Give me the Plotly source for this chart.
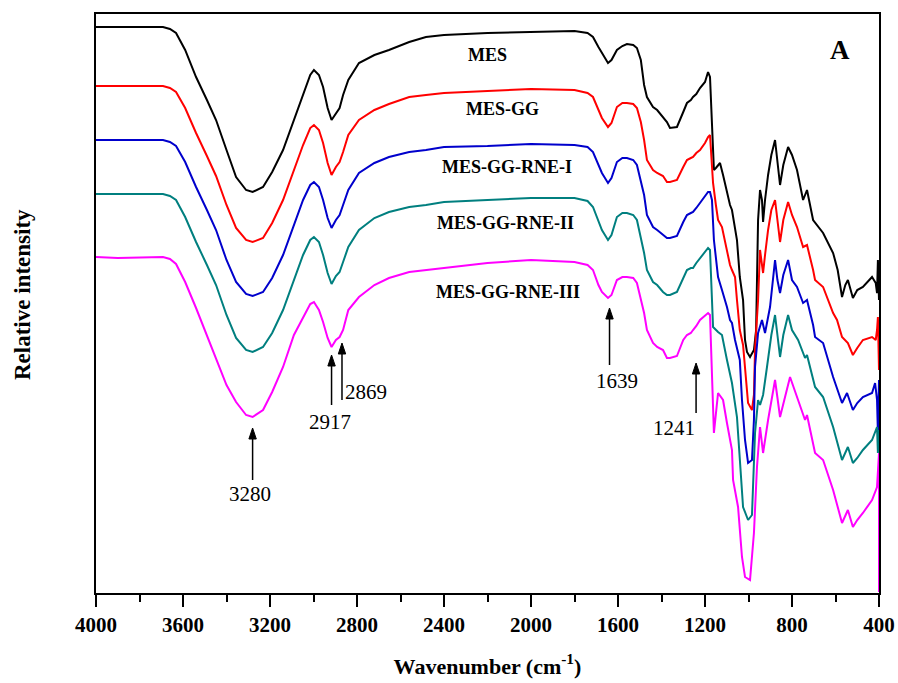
import plotly.graph_objects as go

# FTIR spectra (relative intensity, arbitrary units, vertically offset)
wn_mes = [4000, 3850, 3692, 3660, 3632, 3590, 3540, 3490, 3448, 3400, 3356, 3310, 3280, 3232, 3190, 3140,
          3090, 3048, 3015, 2998, 2975, 2956, 2935, 2917, 2897, 2880, 2864, 2840, 2791, 2720, 2653, 2560,
          2483, 2400, 2200, 2000, 1800, 1740, 1715, 1690, 1674, 1646, 1630, 1605, 1580, 1559, 1530, 1513,
          1495, 1480, 1467, 1439, 1420, 1393, 1375, 1361, 1329, 1300, 1283, 1265, 1255, 1240, 1223, 1200,
          1186, 1177, 1168, 1159, 1150, 1131, 1117, 1099, 1085, 1076, 1062, 1053, 1040, 1025, 1016, 1007,
          993, 975, 965, 956, 947, 938, 933, 924, 910, 895, 878, 867, 855, 840, 818, 800, 777, 749, 731,
          703, 657, 611, 590, 570, 555, 543, 520, 500, 474, 432, 415, 409, 405, 400]
int_mes = [565, 565, 565, 563, 559, 542, 515, 492, 472, 442, 415, 402, 400, 405, 420, 442,
           472, 499, 517, 522, 517, 505, 484, 472, 479, 484, 497, 512, 529, 537, 542, 550,
           555, 557, 559, 560, 561, 559, 555, 545, 539, 529, 532, 542, 546, 548, 547, 544,
           532, 507, 495, 485, 482, 475, 470, 464, 465, 480, 489, 492, 495, 498, 504, 510,
           520, 515, 472, 422, 424, 429, 417, 399, 387, 382, 365, 352, 315, 292, 252, 240,
           235, 242, 262, 372, 402, 392, 370, 392, 417, 437, 452, 432, 407, 427, 445, 437, 422, 392, 402,
           372, 359, 339, 322, 295, 307, 312, 294, 302, 305, 315, 309, 299, 332, 292]

wn_gg = [4000, 3692, 3660, 3632, 3590, 3540, 3490, 3448, 3400, 3356, 3310, 3280, 3232, 3190, 3140, 3090,
         3048, 3015, 2998, 2975, 2956, 2935, 2917, 2897, 2880, 2864, 2840, 2791, 2720, 2653, 2560, 2483,
         2400, 2200, 2000, 1800, 1740, 1715, 1690, 1674, 1646, 1630, 1605, 1580, 1559, 1530, 1513, 1495,
         1480, 1467, 1439, 1420, 1393, 1375, 1361, 1329, 1300, 1283, 1265, 1255, 1240, 1223, 1200, 1186,
         1177, 1168, 1163, 1150, 1140, 1122, 1099, 1085, 1076, 1062, 1053, 1040, 1025, 1016, 1002, 984,
         975, 970, 956, 947, 933, 924, 910, 895, 878, 867, 855, 840, 818, 800, 777, 749, 731, 703, 694,
         657, 611, 593, 570, 543, 520, 500, 474, 432, 415, 409, 405, 400]
int_gg = [506, 506, 504, 500, 484, 459, 436, 416, 387, 364, 352, 350, 354, 369, 392, 422,
          447, 464, 467, 462, 449, 429, 417, 425, 430, 440, 457, 472, 482, 488, 495, 497,
          499, 501, 503, 502, 499, 495, 482, 474, 465, 469, 485, 489, 489, 488, 484, 470,
          452, 432, 422, 419, 416, 410, 410, 412, 425, 432, 434, 435, 439, 442, 449, 455,
          457, 432, 409, 387, 372, 365, 342, 327, 322, 315, 292, 262, 247, 225, 189, 182,
          197, 242, 292, 342, 319, 337, 362, 382, 392, 372, 350, 372, 390, 377, 365, 345, 347, 322, 312,
          305, 279, 272, 255, 249, 237, 244, 252, 255, 252, 262, 275, 222]

wn_rne1 = [4000, 3692, 3660, 3632, 3590, 3540, 3490, 3448, 3400, 3356, 3310, 3280, 3232, 3190, 3140, 3090,
           3048, 3015, 2998, 2975, 2956, 2935, 2917, 2897, 2880, 2864, 2840, 2791, 2720, 2653, 2560, 2483,
           2400, 2200, 2000, 1800, 1740, 1715, 1690, 1674, 1646, 1630, 1605, 1580, 1559, 1530, 1513, 1495,
           1480, 1467, 1439, 1420, 1393, 1375, 1361, 1329, 1300, 1283, 1265, 1255, 1240, 1223, 1200, 1186,
           1177, 1168, 1159, 1140, 1122, 1099, 1085, 1076, 1062, 1040, 1030, 1016, 1002, 984, 975, 970,
           956, 938, 924, 901, 878, 867, 855, 840, 818, 800, 777, 749, 731, 703, 694, 657, 611, 570, 547,
           520, 500, 474, 432, 418, 409, 405, 400]
int_rne1 = [452, 452, 450, 446, 430, 405, 382, 362, 332, 310, 298, 296, 300, 314, 337, 367,
            392, 407, 410, 405, 392, 374, 364, 372, 377, 387, 402, 419, 429, 435, 440, 442,
            445, 446, 448, 447, 445, 440, 427, 419, 409, 414, 430, 434, 434, 432, 427, 412,
            397, 377, 365, 362, 357, 354, 354, 356, 370, 377, 379, 380, 384, 389, 395, 400,
            400, 392, 352, 315, 302, 285, 272, 269, 252, 232, 192, 152, 129, 132, 172, 225,
            259, 272, 259, 285, 332, 312, 299, 317, 332, 312, 305, 289, 292, 267, 255, 249, 215, 189, 199,
            182, 189, 195, 199, 209, 192, 159, 212]

wn_rne2 = [4000, 3692, 3660, 3632, 3590, 3540, 3490, 3448, 3400, 3356, 3310, 3280, 3232, 3190, 3140, 3090,
           3048, 3015, 2998, 2975, 2956, 2935, 2917, 2897, 2880, 2864, 2840, 2791, 2720, 2653, 2560, 2483,
           2400, 2200, 2000, 1800, 1740, 1715, 1690, 1674, 1646, 1630, 1605, 1580, 1559, 1530, 1513, 1495,
           1480, 1467, 1439, 1420, 1393, 1375, 1361, 1329, 1300, 1283, 1265, 1255, 1240, 1223, 1200, 1186,
           1177, 1168, 1163, 1140, 1122, 1099, 1076, 1053, 1039, 1025, 1002, 984, 970, 956, 947, 933, 915,
           895, 878, 867, 855, 840, 818, 800, 772, 740, 731, 694, 657, 611, 570, 543, 520, 500, 474, 432,
           409, 405, 400]
int_rne2 = [398, 398, 396, 392, 375, 350, 327, 307, 277, 254, 242, 240, 245, 259, 282, 312,
            337, 352, 355, 350, 337, 319, 308, 316, 320, 330, 345, 362, 374, 380, 385, 387,
            390, 392, 394, 394, 391, 385, 370, 362, 352, 357, 375, 379, 379, 377, 372, 355,
            339, 322, 310, 307, 300, 297, 297, 300, 315, 322, 324, 324, 329, 334, 340, 344,
            342, 302, 265, 260, 257, 232, 209, 175, 125, 85, 72, 77, 159, 192, 187, 197, 225,
            257, 277, 257, 235, 257, 277, 262, 252, 234, 237, 205, 195, 165, 132, 145, 129, 134, 142, 152,
            165, 139, 162]

wn_rne3 = [4000, 3900, 3692, 3660, 3632, 3590, 3540, 3490, 3448, 3400, 3356, 3310, 3280, 3232, 3190, 3140,
           3090, 3048, 3015, 2998, 2975, 2956, 2935, 2917, 2897, 2880, 2864, 2840, 2791, 2720, 2653, 2560,
           2483, 2400, 2200, 2000, 1800, 1740, 1715, 1690, 1674, 1646, 1630, 1605, 1580, 1559, 1530, 1513,
           1495, 1480, 1467, 1439, 1420, 1393, 1375, 1361, 1329, 1300, 1283, 1265, 1255, 1240, 1223, 1200,
           1186, 1177, 1168, 1159, 1140, 1117, 1099, 1076, 1071, 1048, 1030, 1016, 993, 984, 975, 961, 947,
           933, 910, 878, 855, 809, 772, 740, 731, 694, 657, 611, 570, 543, 520, 500, 474, 432, 409, 403,
           400, 400]
int_rne3 = [335, 334, 335, 333, 328, 310, 284, 257, 234, 207, 190, 177, 175, 182, 200, 225,
            257, 274, 288, 290, 282, 270, 254, 245, 252, 255, 262, 282, 295, 307, 314, 320,
            322, 324, 329, 332, 330, 327, 322, 307, 300, 294, 297, 312, 315, 315, 314, 309,
            294, 279, 262, 249, 245, 242, 234, 234, 236, 252, 257, 259, 262, 266, 272, 277,
            279, 277, 212, 159, 199, 192, 169, 142, 112, 85, 35, 15, 12, 32, 59, 125, 165,
            139, 172, 212, 175, 215, 192, 172, 177, 139, 132, 102, 69, 82, 65, 72, 79, 92, 105, 139,
            139, 0]

series = [
    ("MES", wn_mes, int_mes, "#000000"),
    ("MES-GG", wn_gg, int_gg, "#FF0000"),
    ("MES-GG-RNE-I", wn_rne1, int_rne1, "#0000CC"),
    ("MES-GG-RNE-II", wn_rne2, int_rne2, "#007F7F"),
    ("MES-GG-RNE-III", wn_rne3, int_rne3, "#FF00FF"),
]

# label anchors (wavenumber, intensity) for each spectrum name
label_wn = [2202, 2129, 2110, 2115, 2106]
label_int = [537, 483, 425, 369, 300]

# marked bands: band, arrow tip / tail intensity, label position
band_wn = [3280, 2917, 2869, 1639, 1241]
band_tip = [164, 237, 249, 284, 229]
band_tail = [112, 187, 192, 227, 179]
band_label_wn = [3290, 2924, 2759, 1605, 1343]
band_label_int = [98, 170, 200, 211, 164]

SERIF = "Liberation Serif"
HEAD_HALF_WN = 17   # half width of arrow head, in wavenumber units
HEAD_LEN = 11       # arrow head length, in intensity units

fig = go.Figure()
for name, wn, inten, color in series:
    fig.add_trace(go.Scatter(x=wn, y=inten, mode="lines", name=name,
                             line=dict(color=color, width=2), showlegend=False))

annotations = []
for (name, _, _, _), lx, ly in zip(series, label_wn, label_int):
    annotations.append(dict(x=lx, y=ly, text=name, showarrow=False,
                            font=dict(family=SERIF, size=18, color="black", weight="bold")))

shapes = []
for b, tip, tail, tx, ty in zip(band_wn, band_tip, band_tail, band_label_wn, band_label_int):
    shapes.append(dict(type="line", xref="x", yref="y", x0=b, x1=b, y0=tail, y1=tip - 4,
                       line=dict(color="black", width=1.5)))
    shapes.append(dict(type="path", xref="x", yref="y",
                       path=f"M {b - HEAD_HALF_WN},{tip - HEAD_LEN} L {b},{tip} "
                            f"L {b + HEAD_HALF_WN},{tip - HEAD_LEN} Z",
                       fillcolor="black", line=dict(color="black", width=1)))
    annotations.append(dict(x=tx, y=ty, text=str(b), showarrow=False,
                            font=dict(family=SERIF, size=21, color="black")))

annotations.append(dict(x=579, y=542, text="A", showarrow=False,
                        font=dict(family=SERIF, size=27, color="black", weight="bold")))

# y-axis title placed as a rotated annotation
annotations.append(dict(x=-0.0945, y=297, xref="paper", yref="y", text="Relative intensity",
                        textangle=-90, showarrow=False, xanchor="center", yanchor="middle",
                        font=dict(family=SERIF, size=23, color="black", weight="bold")))

fig.update_layout(
    width=898, height=683,
    margin=dict(l=96, r=19, t=14, b=90, autoexpand=False),
    paper_bgcolor="white", plot_bgcolor="white",
    annotations=annotations,
    shapes=shapes,
    xaxis=dict(
        range=[4000, 400], tickvals=[4000, 3600, 3200, 2800, 2400, 2000, 1600, 1200, 800, 400],
        ticks="outside", ticklen=12, tickwidth=2, tickcolor="black",
        minor=dict(ticks="outside", ticklen=7, tickwidth=2, tickcolor="black", dtick=200, tick0=0),
        showline=True, linewidth=2, linecolor="black", mirror=True,
        showgrid=False, zeroline=False, automargin=False,
        tickfont=dict(family=SERIF, size=21, color="black", weight="bold"),
        title=dict(text="Wavenumber (cm<sup>-1</sup>)", standoff=22,
                   font=dict(family=SERIF, size=22, color="black", weight="bold")),
    ),
    yaxis=dict(
        range=[-1, 578], showticklabels=False, ticks="",
        showline=True, linewidth=2, linecolor="black", mirror=True,
        showgrid=False, zeroline=False, automargin=False,
    ),
)

fig.write_html("out.html")
